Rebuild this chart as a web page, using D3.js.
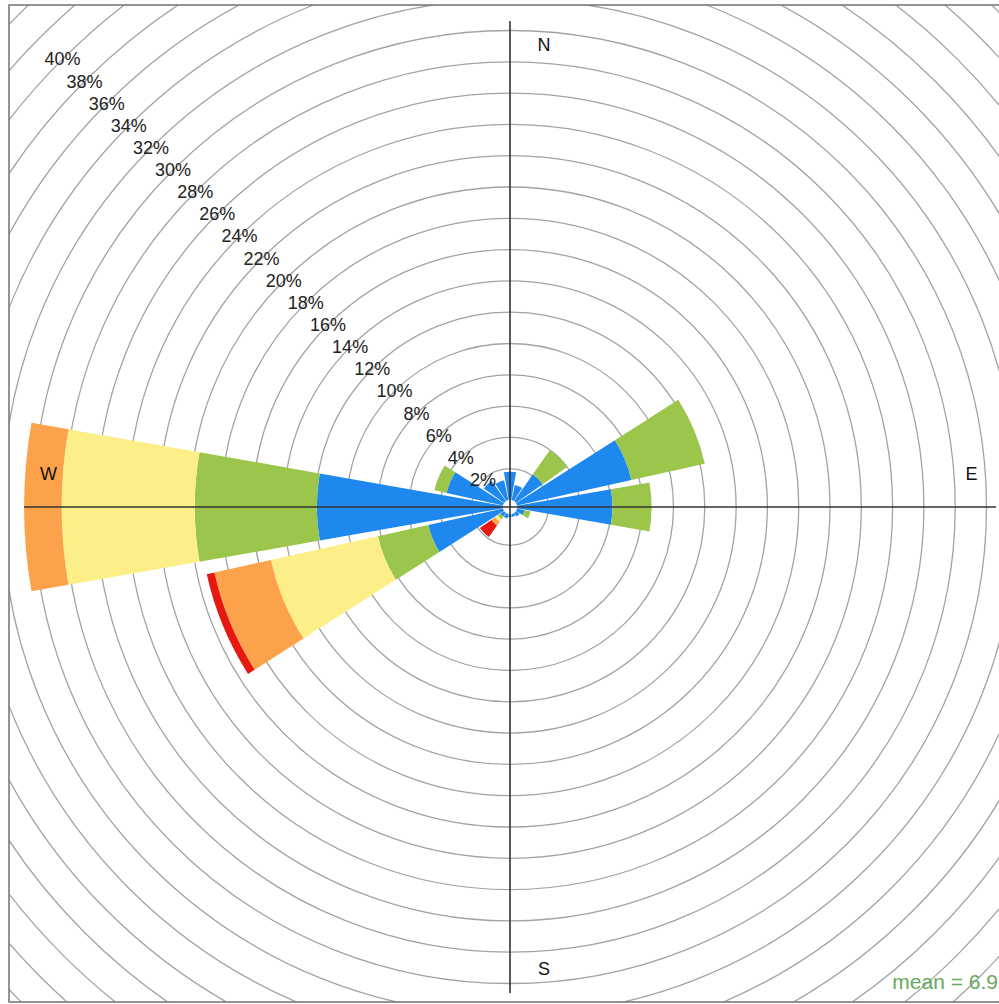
<!DOCTYPE html>
<html><head><meta charset="utf-8">
<script src="https://cdn.jsdelivr.net/npm/d3@7"></script>
<style>html,body{margin:0;padding:0;background:#fff;} svg{display:block;font-family:"Liberation Sans",Arial,sans-serif;}</style>
</head><body><svg id="c" width="999" height="1004"></svg>
<script>
// ---- data ----
const directions = ["N","NNE","NE","ENE","E","ESE","SE","SSE","S","SSW","SW","WSW","W","WNW","NW","NNW"];
const directionAngles = [0,22.5,45,67.5,90,112.5,135,157.5,180,202.5,225,247.5,270,292.5,315,337.5];
const speedBins = ["0-2","2-4","4-6","6-8","8+"];
const bin1 = [1.8,1.0,2.1,7.5,6.1,0.5,0.3,0.2,0.2,0.3,0.3,4.9,11.9,3.7,1.6,1.3];
const bin2 = [0.0,0.0,1.9,4.8,2.5,0.4,0.0,0.0,0.0,0.0,0.2,3.3,7.8,0.8,0.0,0.0];
const bin3 = [0.0,0.0,0.0,0.0,0.0,0.0,0.0,0.0,0.0,0.0,0.2,7.0,8.5,0.0,0.0,0.0];
const bin4 = [0.0,0.0,0.0,0.0,0.0,0.0,0.0,0.0,0.0,0.0,0.3,3.7,2.4,0.0,0.0,0.0];
const bin5 = [0.0,0.0,0.0,0.0,0.0,0.0,0.0,0.0,0.0,0.0,0.9,0.5,0.0,0.0,0.0,0.0];
const binColors = ["#1e88ee","#9bc54b","#fdef88","#fca24a","#e6180f"];
const tickLabels = ["2%","4%","6%","8%","10%","12%","14%","16%","18%","20%","22%","24%","26%","28%","30%","32%","34%","36%","38%","40%"];
const tickValues = [2,4,6,8,10,12,14,16,18,20,22,24,26,28,30,32,34,36,38,40];
const ringValues = [2,4,6,8,10,12,14,16,18,20,22,24,26,28,30,32,34,36,38,40,42,44,46];
const compassLabels = ["N","E","S","W"];
const compassAngles = [0,90,180,270];
const meanText = "mean = 6.9";

// ---- layout ----
const svg = d3.select("#c");
const cx = 510, cy = 507;
const frame = {x:9, y:5, w:1006, h:997};
const r = d3.scaleLinear().domain([0,40]).range([7,633]);
const toRad = d => d*Math.PI/180;
const halfW = 10;

svg.append("defs").append("clipPath").attr("id","clip")
  .append("rect").attr("x",frame.x).attr("y",frame.y).attr("width",frame.w).attr("height",frame.h);

const g = svg.append("g").attr("clip-path","url(#clip)");
const c = g.append("g").attr("transform",`translate(${cx},${cy})`);

// rings
c.selectAll("circle.ring").data(ringValues).join("circle")
  .attr("class","ring").attr("r",d=>r(d))
  .attr("fill","none").attr("stroke","#a3a3a3").attr("stroke-width",1.3);

// stacked bars
const bins = [bin1,bin2,bin3,bin4,bin5];
const segs = [];
directions.forEach((d,i)=>{
  let cum = 0;
  bins.forEach((b,k)=>{
    const v = b[i];
    if (v > 0) segs.push({dir:d, angle:directionAngles[i], k, lo:cum, hi:cum+v});
    cum += v;
  });
});
const arc = d3.arc();
c.selectAll("path.bar").data(segs).join("path")
  .attr("class","bar")
  .attr("d",s=>arc({innerRadius:r(s.lo), outerRadius:r(s.hi),
     startAngle:toRad(s.angle-halfW), endAngle:toRad(s.angle+halfW)}))
  .attr("fill",s=>binColors[s.k]);

// center hole
c.append("circle").attr("r",r(0)).attr("fill","#fff");

// axes
const totals = directions.map((d,i)=>d3.sum(bins,b=>b[i]));
const axisLen = r(d3.max(totals));
c.append("line").attr("x1",-axisLen).attr("x2",axisLen).attr("y1",0).attr("y2",0)
  .attr("stroke","#333").attr("stroke-width",1.6);
c.append("line").attr("y1",-axisLen).attr("y2",axisLen).attr("x1",0).attr("x2",0)
  .attr("stroke","#333").attr("stroke-width",1.6);

// ring labels on NW diagonal
c.selectAll("text.tick").data(tickValues).join("text")
  .attr("class","tick")
  .attr("x",d=>-r(d)*Math.SQRT1_2).attr("y",d=>-r(d)*Math.SQRT1_2)
  .attr("text-anchor","middle").attr("dominant-baseline","central")
  .attr("font-size",18).attr("fill","#222")
  .text((d,i)=>tickLabels[i]);

// compass labels
const labR = axisLen*0.95;
c.selectAll("text.compass").data(compassLabels).join("text")
  .attr("class","compass")
  .attr("x",(d,i)=>{const a=toRad(compassAngles[i]); return labR*Math.sin(a) + 34*Math.abs(Math.cos(a));})
  .attr("y",(d,i)=>{const a=toRad(compassAngles[i]); return -labR*Math.cos(a) - 33*Math.abs(Math.sin(a));})
  .attr("text-anchor","middle").attr("dominant-baseline","central")
  .attr("font-size",18).attr("fill","#111")
  .text(d=>d);

// mean label
g.append("text").attr("x",998).attr("y",989).attr("text-anchor","end")
  .attr("font-size",21).attr("fill","#66aa5c").text(meanText);

// frame
svg.append("rect").attr("x",frame.x).attr("y",frame.y).attr("width",frame.w).attr("height",frame.h)
  .attr("fill","none").attr("stroke","#7a7a7a").attr("stroke-width",1.6);
</script></body></html>
